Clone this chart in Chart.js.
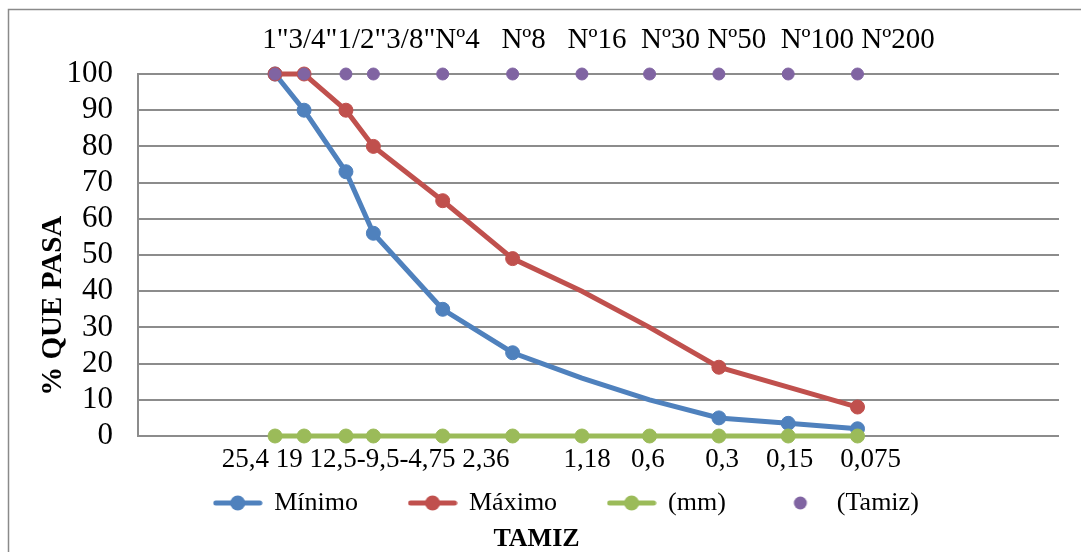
<!DOCTYPE html>
<html lang="es">
<head>
<meta charset="UTF-8">
<title>Curva granulométrica</title>
<script src="https://cdn.jsdelivr.net/npm/chart.js"></script>
<style>
  html, body { margin: 0; padding: 0; background: #fff; }
  #wrap { width: 1081px; height: 552px; position: relative; }
</style>
</head>
<body>
<div id="wrap"><canvas id="grafico" width="1081" height="552"></canvas></div>
<script>
// datos
const tamices = ['1"', '3/4"', '1/2"', '3/8"', 'Nº4', 'Nº8', 'Nº16', 'Nº30', 'Nº50', 'Nº100', 'Nº200'];
const aberturasTexto = ['25,4', '19', '12,5-', '9,5-', '4,75', '2,36', '1,18', '0,6', '0,3', '0,15', '0,075'];
const aberturas = [25.4, 19, 12.5, 9.5, 4.75, 2.36, 1.18, 0.6, 0.3, 0.15, 0.075];
const minimo = [100, 90, 73, 56, 35, 23, 16, 10, 5, 3.5, 2];
const maximo = [100, 100, 90, 80, 65, 49, 40, 30, 19, 13.5, 8];
const lineaMm = [0, 0, 0, 0, 0, 0, 0, 0, 0, 0, 0];
const lineaTamiz = [100, 100, 100, 100, 100, 100, 100, 100, 100, 100, 100];

// espacios entre etiquetas (el texto original venia escrito a mano)
const espaciosSup = [0, 0, 0, 0, 3, 3, 2, 1, 2, 1];
const espaciosInf = [1, 1, 0, 0, 1, 8, 3, 6, 4, 4];

const AZUL = '#4F81BD', ROJO = '#C0504D', VERDE = '#9BBB59', MORADO = '#8064A2';
const FUENTE = "'Liberation Serif', 'Times New Roman', serif";

function unir(textos, espacios) {
  return textos.map((t, i) => (i ? ' '.repeat(espacios[i - 1]) : '') + t).join('');
}

function puntos(valores) {
  return aberturas.map((x, i) => ({ x: x, y: valores[i] }));
}

function icono(color, conLinea, r) {
  const c = document.createElement('canvas');
  c.width = 50; c.height = 18;
  const g = c.getContext('2d');
  if (conLinea) {
    g.strokeStyle = color; g.lineWidth = 5; g.lineCap = 'round';
    g.beginPath(); g.moveTo(3, 9); g.lineTo(47, 9); g.stroke();
  }
  g.fillStyle = color;
  g.beginPath(); g.arc(25, 9, r, 0, Math.PI * 2); g.fill();
  return c;
}

const iconos = [icono(AZUL, true, 7.5), icono(ROJO, true, 7.5), icono(VERDE, true, 7.5), icono(MORADO, false, 6.5)];

// marco exterior y pequeños corrimientos de leyenda / titulo
const marco = {
  id: 'marco',
  afterLayout(chart) {
    chart.legend.left += 17; chart.legend.right += 17;
    chart.titleBlock.left -= 13; chart.titleBlock.right -= 13;
  },
  beforeDraw(chart) {
    const ctx = chart.ctx;
    ctx.save();
    ctx.strokeStyle = '#8a8a8a';
    ctx.lineWidth = 1.5;
    ctx.strokeRect(8.5, 9.5, 2000, 2000);
    ctx.restore();
  }
};

const ctx = document.getElementById('grafico').getContext('2d');
new Chart(ctx, {
  type: 'line',
  data: {
    datasets: [
      {
        label: 'Mínimo', data: puntos(minimo), order: 4,
        borderColor: AZUL, backgroundColor: AZUL, borderWidth: 5,
        pointRadius: [7, 7, 7, 7, 7, 7, 0, 0, 7, 7, 7],
        pointBorderWidth: 1, pointBorderColor: AZUL
      },
      {
        label: 'Máximo', data: puntos(maximo), order: 3,
        borderColor: ROJO, backgroundColor: ROJO, borderWidth: 5,
        pointRadius: [7, 7, 7, 7, 7, 7, 0, 0, 7, 0, 7],
        pointBorderWidth: 1, pointBorderColor: ROJO
      },
      {
        label: '(mm)', data: puntos(lineaMm), order: 2,
        borderColor: VERDE, backgroundColor: VERDE, borderWidth: 5,
        pointRadius: 7, pointBorderWidth: 1, pointBorderColor: VERDE
      },
      {
        label: '(Tamiz)', data: puntos(lineaTamiz), order: 1, showLine: false,
        borderColor: MORADO, backgroundColor: MORADO,
        pointRadius: 6, pointBorderWidth: 1, pointBorderColor: MORADO
      }
    ]
  },
  options: {
    responsive: false,
    animation: false,
    events: [],
    clip: false,
    layout: { padding: { left: 40, right: 22, top: 0, bottom: 0 } },
    elements: { line: { tension: 0 } },
    scales: {
      x: {
        type: 'logarithmic', position: 'bottom', reverse: true, min: 0.01, max: 100,
        ticks: { display: false },
        grid: { display: false },
        border: { display: false },
        title: {
          display: true,
          text: unir(aberturasTexto, espaciosInf) + ' '.repeat(11),
          color: '#000',
          font: { family: FUENTE, size: 27 },
          padding: { top: 0, bottom: -37 }
        },
        afterFit(s) { s.height = 3; }
      },
      xTop: {
        type: 'linear', position: 'top', min: 0, max: 1,
        ticks: { display: false },
        grid: { display: false },
        border: { display: false },
        title: {
          display: true,
          text: unir(tamices, espaciosSup),
          color: '#000',
          font: { family: FUENTE, size: 29 },
          padding: { top: 23, bottom: 0 }
        },
        afterFit(s) { s.height = 74; }
      },
      y: {
        min: 0, max: 100,
        ticks: { stepSize: 10, autoSkip: false, color: '#000', padding: 25, font: { family: FUENTE, size: 31 } },
        grid: { color: '#8c8c8c', lineWidth: 2, drawTicks: false },
        border: { display: true, color: '#8c8c8c', width: 2 },
        title: {
          display: true,
          text: '% QUE PASA' + ' '.repeat(14),
          color: '#000',
          font: { family: FUENTE, size: 29, weight: 'bold' },
          padding: { top: -4, bottom: 0 }
        },
        afterFit(s) { s.width = 98; }
      }
    },
    plugins: {
      tooltip: { enabled: false },
      legend: {
        position: 'bottom',
        labels: {
          usePointStyle: true,
          pointStyleWidth: 47,
          padding: 51,
          color: '#000',
          font: { family: FUENTE, size: 26 },
          generateLabels: chart => chart.data.datasets.map((ds, i) => ({
            text: ds.label,
            pointStyle: iconos[i],
            datasetIndex: i,
            fontColor: '#000',
            hidden: false,
            lineWidth: 0
          }))
        }
      },
      title: {
        display: true,
        position: 'bottom',
        text: 'TAMIZ',
        color: '#000',
        font: { family: FUENTE, size: 26, weight: 'bold', lineHeight: 1 },
        padding: 0
      }
    }
  },
  plugins: [marco]
});
</script>
</body>
</html>
